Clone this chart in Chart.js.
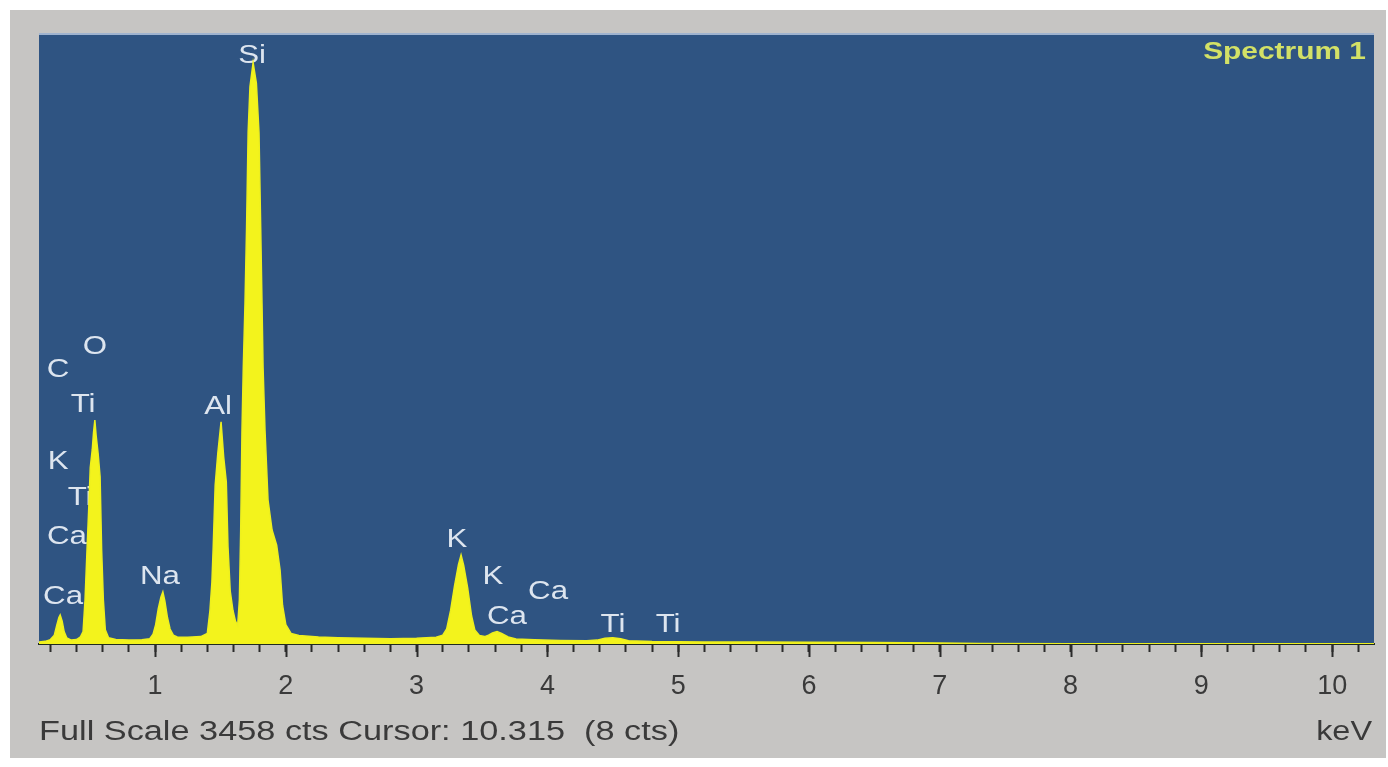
<!DOCTYPE html>
<html>
<head>
<meta charset="utf-8">
<script src="https://cdn.jsdelivr.net/npm/chart.js@4.4.0/dist/chart.umd.min.js"></script>
<style>
html, body { margin: 0; padding: 0; background: #fff; }
#wrap { width: 1388px; height: 767px; }
</style>
</head>
<body>
<div id="wrap"><canvas id="spectrum" width="1388" height="767"></canvas></div>
<script>
// EDS spectrum: energy (keV) and counts
const energy = [
    0.113, 0.16, 0.20, 0.23, 0.25, 0.265, 0.275, 0.29, 0.305, 0.325,
    0.36, 0.40, 0.43, 0.45, 0.465, 0.48, 0.495, 0.505, 0.52, 0.53,
    0.54, 0.55, 0.565, 0.58, 0.592, 0.605, 0.62, 0.645, 0.70, 0.80,
    0.90, 0.96, 0.985, 1.005, 1.025, 1.045, 1.06, 1.075, 1.095, 1.115,
    1.14, 1.17, 1.25, 1.35, 1.40, 1.42, 1.435, 1.445, 1.46, 1.48,
    1.505, 1.525, 1.545, 1.558, 1.575, 1.596, 1.615, 1.632, 1.645, 1.655,
    1.665, 1.675, 1.688, 1.70, 1.712, 1.726, 1.75, 1.775, 1.795, 1.808,
    1.818, 1.826, 1.841, 1.864, 1.895, 1.93, 1.956, 1.975, 2.0, 2.04,
    2.1, 2.25, 2.4, 2.6, 2.8, 3.0, 3.15, 3.2, 3.23, 3.26,
    3.29, 3.32, 3.34, 3.36, 3.39, 3.42, 3.445, 3.48, 3.52, 3.55,
    3.58, 3.615, 3.65, 3.70, 3.76, 3.9, 4.1, 4.3, 4.38, 4.44,
    4.5, 4.56, 4.62, 4.8, 5.2, 5.6, 6.0, 6.5, 7.0, 7.3,
    8.0, 9.0, 10.32
];
const counts = [
    12, 15, 25, 50, 110, 150, 165, 130, 70, 35,
    22, 25, 40, 70, 250, 530, 800, 1000, 1100, 1200,
    1270, 1180, 1080, 950, 530, 250, 80, 35, 25, 22,
    24, 30, 55, 110, 200, 265, 295, 245, 150, 85,
    50, 40, 38, 42, 60, 190, 350, 550, 900, 1080,
    1260, 1060, 920, 550, 300, 190, 130, 105, 250, 640,
    1210, 1570, 1930, 2360, 2900, 3160, 3295, 3180, 2900, 2360,
    1930, 1570, 1210, 816, 646, 560, 420, 220, 110, 60,
    48, 40, 36, 33, 30, 32, 38, 50, 85, 190,
    330, 450, 505, 445, 320, 160, 80, 48, 42, 50,
    63, 70, 60, 40, 28, 24, 20, 18, 22, 32,
    35, 30, 18, 14, 12, 11, 10, 8, 5, 3,
    2, 1, 1
];

// element marks: text, and where its centre sits (keV, counts)
const peakNames  = ['Si', 'C', 'O', 'Ti', 'K', 'Ti', 'Ca', 'Ca', 'Na', 'Al', 'K', 'K', 'Ca', 'Ca', 'Ti', 'Ti'];
const peakEnergy = [1.742, 0.259, 0.541, 0.450, 0.259, 0.427, 0.327, 0.297, 1.038, 1.482, 3.309, 3.584, 4.005, 3.691, 4.502, 4.923];
const peakCounts = [3334, 1553, 1684, 1355, 1032, 828, 607, 266, 380, 1343, 590, 380, 295, 153, 108, 108];

const tickLabels = ['1', '2', '3', '4', '5', '6', '7', '8', '9', '10'];
const fullScale = 3458;
const footerText = 'Full Scale 3458 cts Cursor: 10.315  (8 cts)';
const unitText = 'keV';
const spectrumName = 'Spectrum 1';

const FONT = '"Liberation Sans", Arial, sans-serif';

// minor ticks every 0.2 keV, labels only on whole numbers
const tickValues = [];
for (let i = 1; i <= 51; i++) tickValues.push(Math.round(i * 2) / 10);

function isWhole(v) {
    return Math.abs(v - Math.round(v)) < 1e-6;
}

// the picture is stretched sideways, so text is drawn a bit wider
function wideText(ctx, text, x, y, align, sx) {
    ctx.save();
    ctx.translate(x, y);
    ctx.scale(sx, 1);
    ctx.textAlign = align;
    ctx.fillText(text, 0, 0);
    ctx.restore();
}

const spectrumDecor = {
    id: 'spectrumDecor',
    beforeDraw(chart) {
        const ctx = chart.ctx;
        const a = chart.chartArea;
        ctx.save();
        ctx.fillStyle = '#ffffff';
        ctx.fillRect(0, 0, chart.width, chart.height);
        // grey panel
        ctx.fillStyle = '#c6c5c3';
        ctx.fillRect(10, 10, 1376, 748);
        // blue plot field
        ctx.fillStyle = '#2f5482';
        ctx.fillRect(a.left, a.top, a.right - a.left, a.bottom - a.top);
        ctx.strokeStyle = '#9fb3cf';
        ctx.lineWidth = 2;
        ctx.beginPath();
        ctx.moveTo(a.left, a.top);
        ctx.lineTo(a.right, a.top);
        ctx.stroke();
        ctx.restore();
    },
    beforeDatasetsDraw(chart) {
        // element names go under the peaks, as in the original
        const ctx = chart.ctx;
        const xs = chart.scales.x, ys = chart.scales.y;
        ctx.save();
        ctx.fillStyle = '#dde5ef';
        ctx.font = '25px ' + FONT;
        ctx.textBaseline = 'middle';
        peakNames.forEach((name, i) => {
            wideText(ctx, name, xs.getPixelForValue(peakEnergy[i]), ys.getPixelForValue(peakCounts[i]), 'center', 1.25);
        });
        ctx.restore();
    },
    afterDraw(chart) {
        const ctx = chart.ctx;
        const a = chart.chartArea;
        const xs = chart.scales.x;
        ctx.save();
        // longer marks on whole keV
        ctx.strokeStyle = '#2b2b2b';
        ctx.lineWidth = 2;
        tickValues.filter(isWhole).forEach(v => {
            const px = Math.round(xs.getPixelForValue(v)) + 0.5;
            ctx.beginPath();
            ctx.moveTo(px, a.bottom);
            ctx.lineTo(px, a.bottom + 13);
            ctx.stroke();
        });
        // footer line
        ctx.fillStyle = '#3a3a3a';
        ctx.font = '27px ' + FONT;
        ctx.textBaseline = 'middle';
        wideText(ctx, footerText, 39, 733, 'left', 1.27);
        wideText(ctx, unitText, 1372, 733, 'right', 1.2);
        // spectrum name, top right
        ctx.fillStyle = '#d3e166';
        ctx.font = 'bold 23px ' + FONT;
        wideText(ctx, spectrumName, 1366, 53, 'right', 1.3);
        ctx.restore();
    }
};

new Chart(document.getElementById('spectrum'), {
    type: 'line',
    data: {
        datasets: [{
            label: spectrumName,
            data: energy.map((e, i) => ({ x: e, y: counts[i] })),
            borderColor: '#eef01e',
            backgroundColor: '#f3f31c',
            borderWidth: 1.5,
            fill: 'origin',
            pointRadius: 0,
            tension: 0
        }]
    },
    options: {
        responsive: false,
        animation: false,
        devicePixelRatio: 1,
        layout: { padding: { left: 39, right: 14, top: 34, bottom: 0 } },
        plugins: {
            legend: { display: false },
            tooltip: { enabled: false }
        },
        scales: {
            x: {
                type: 'linear',
                position: 'bottom',
                min: 0.113,
                max: 10.32,
                afterBuildTicks: (axis) => {
                    axis.ticks = tickValues.map(v => ({ value: v }));
                },
                afterFit: (axis) => {
                    axis.height = 123;
                },
                grid: {
                    drawOnChartArea: false,
                    drawTicks: true,
                    tickLength: 8,
                    tickColor: '#2b2b2b',
                    tickWidth: 2
                },
                border: { display: true, color: '#1f2c22', width: 2 },
                ticks: {
                    autoSkip: false,
                    maxRotation: 0,
                    padding: 18,
                    color: '#3a3a3a',
                    font: { family: FONT, size: 27 },
                    callback: (v) => isWhole(v) ? tickLabels[Math.round(v) - 1] : ''
                }
            },
            y: {
                display: false,
                min: 0,
                max: fullScale
            }
        }
    },
    plugins: [spectrumDecor]
});
</script>
</body>
</html>
